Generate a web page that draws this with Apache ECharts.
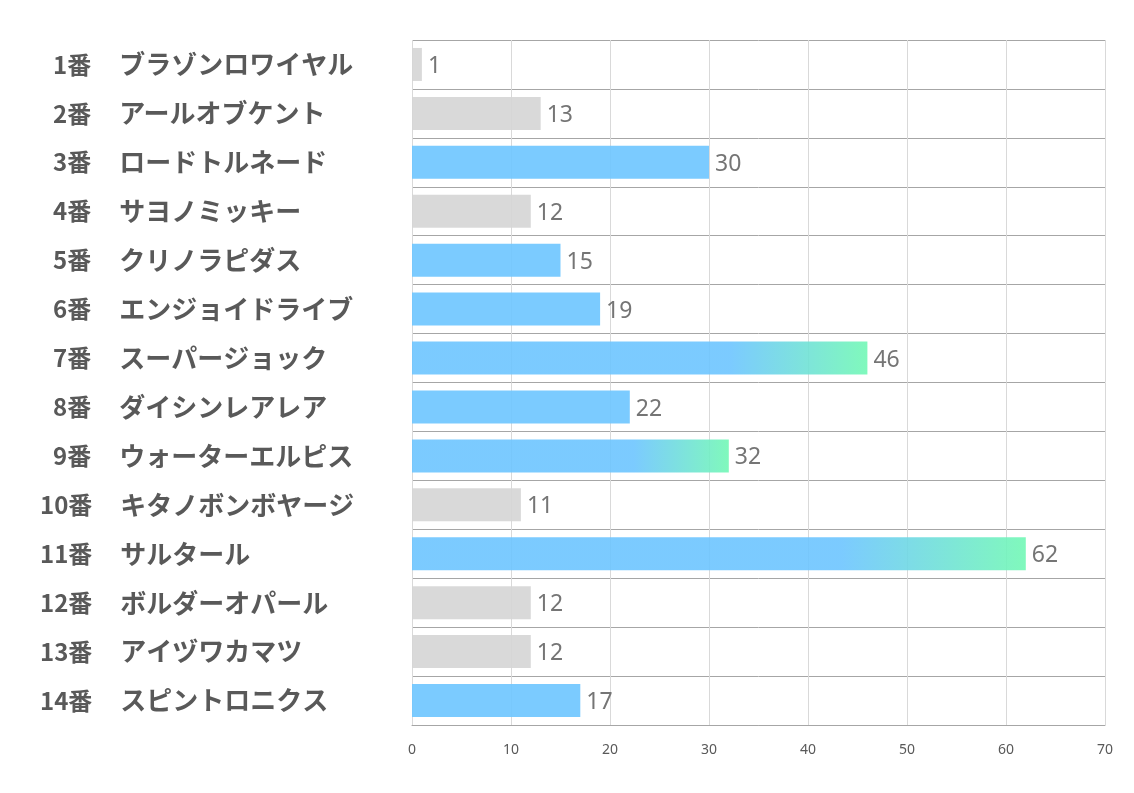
<!DOCTYPE html>
<html><head><meta charset="utf-8">
<script src="https://cdn.jsdelivr.net/npm/echarts@6/dist/echarts.min.js"></script>
<style>html,body{margin:0;padding:0;background:#fff}#c{width:1134px;height:793px}</style>
</head><body><div id="c"></div>
<script>
const numbers = ['1番','2番','3番','4番','5番','6番','7番','8番','9番','10番','11番','12番','13番','14番'];
const names = ['ブラゾンロワイヤル','アールオブケント','ロードトルネード','サヨノミッキー','クリノラピダス','エンジョイドライブ','スーパージョック','ダイシンレアレア','ウォーターエルピス','キタノボンボヤージ','サルタール','ボルダーオパール','アイヅワカマツ','スピントロニクス'];
const values = [1,13,30,12,15,19,46,22,32,11,62,12,12,17];
const xTicks = [0,10,20,30,40,50,60,70];

const GRAY = 'rgba(213,213,213,0.9)';
const BLUE = 'rgba(109,197,255,0.9)';
const GREEN = 'rgba(114,248,181,0.9)';
function colorFor(v){
  if (v <= 13) return GRAY;
  if (v <= 30) return BLUE;
  return new echarts.graphic.LinearGradient(0,0,1,0,[{offset:0,color:BLUE},{offset:0.7,color:BLUE},{offset:1,color:GREEN}]);
}
const cats = numbers.map((n,i)=>n+'|'+names[i]);
const numStyle = {fontSize:24,fontWeight:'bold',color:'#595959',fontFamily:'Noto Sans CJK JP'};
const chart = echarts.init(document.getElementById('c'));
chart.setOption({
  animation:false,
  grid:{left:412,right:29,top:40,bottom:68,containLabel:false},
  xAxis:{type:'value',min:xTicks[0],max:xTicks[xTicks.length-1],interval:10,
    axisLine:{show:true,lineStyle:{color:'#a6a6a6',width:1}},axisTick:{show:false},
    axisLabel:{color:'#595959',fontSize:14,fontFamily:'Noto Sans',margin:18},
    splitLine:{show:true,lineStyle:{color:'#d9d9d9',width:1}}},
  yAxis:{type:'category',inverse:true,data:cats,
    axisLine:{show:false},axisTick:{show:false},
    splitLine:{show:true,lineStyle:{color:'#a6a6a6',width:1}},
    axisLabel:{align:'left',margin:372,
      formatter:function(v){const p=v.split('|');const key=p[0].length>2?'n2':'n1';return '{'+key+'|'+p[0]+'}{m|'+p[1]+'}';},
      rich:{n1:Object.assign({padding:[0,0,0,13]},numStyle),
            n2:Object.assign({},numStyle),
            m:{padding:[0,0,0,28],fontSize:26,fontWeight:'bold',color:'#595959',fontFamily:'Noto Sans CJK JP'}}}},
  series:[{type:'bar',barWidth:33,
    data:values.map(v=>({value:v,itemStyle:{color:colorFor(v)}})),
    label:{show:true,position:'right',distance:6,color:'#757575',fontSize:23,fontFamily:'Noto Sans',offset:[0,2]}}]
});
</script></body></html>
